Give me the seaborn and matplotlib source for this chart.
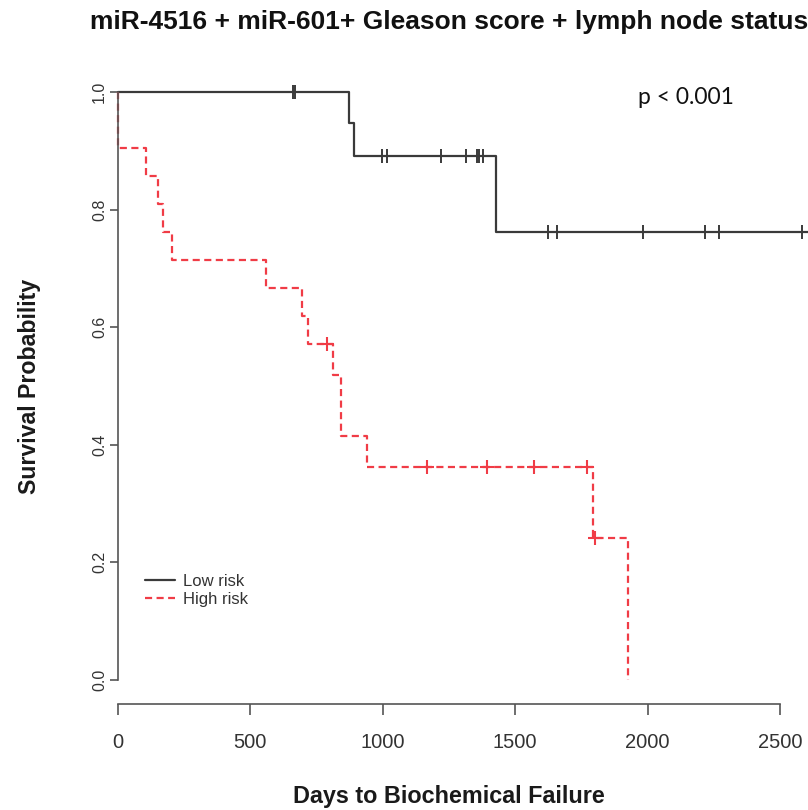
import numpy as np
import pandas as pd
import matplotlib
matplotlib.use("Agg")
import matplotlib.pyplot as plt
import seaborn as sns

# ---- data ----
groups = ["Low risk", "High risk"]

low_days = [0, 872, 891, 1427, 2606]
low_surv = [1.0, 0.947, 0.891, 0.762, 0.762]
low_censor_days = [661, 668, 997, 1016, 1220, 1314, 1356, 1363, 1378,
                   1624, 1658, 1983, 2217, 2270, 2584]

high_days = [0, 1, 105, 151, 170, 204, 559, 695, 718, 812, 842, 940, 1795, 1926]
high_surv = [1.0, 0.905, 0.857, 0.810, 0.762, 0.714, 0.667, 0.619, 0.571,
             0.519, 0.415, 0.363, 0.242, 0.0]
high_censor_days = [789, 1167, 1393, 1571, 1771, 1800]

x_ticks = [0, 500, 1000, 1500, 2000, 2500]
y_ticks = [0.0, 0.2, 0.4, 0.6, 0.8, 1.0]

title = "miR-4516 + miR-601+ Gleason score + lymph node status"
p_text = "p < 0.001"

colors = {"Low risk": "#3a3a3a", "High risk": "#f03c46"}


def step_at(days, surv, t):
    idx = np.searchsorted(days, t, side="right") - 1
    return np.asarray(surv)[idx]


curves = pd.DataFrame({
    "days": low_days + high_days,
    "surv": low_surv + high_surv,
    "group": ["Low risk"] * len(low_days) + ["High risk"] * len(high_days),
})
low_cens = pd.DataFrame({"days": low_censor_days,
                         "surv": step_at(low_days, low_surv, low_censor_days)})
high_cens = pd.DataFrame({"days": high_censor_days,
                          "surv": step_at(high_days, high_surv, high_censor_days)})

sns.set_style("white")
plt.rcParams["font.family"] = ["Liberation Sans", "DejaVu Sans"]

W, H = 808, 810
fig = plt.figure(figsize=(W / 100, H / 100), dpi=100)
ax = fig.add_axes([118 / W, (H - 680) / H, 690 / W, 588 / H])

sns.lineplot(data=curves, x="days", y="surv", hue="group", style="group",
             hue_order=groups, style_order=groups, palette=colors,
             dashes={"Low risk": "", "High risk": (3.2, 2)},
             estimator=None, sort=False, drawstyle="steps-post",
             linewidth=1.6, clip_on=False, ax=ax, legend=True)

sns.scatterplot(data=low_cens, x="days", y="surv", marker="|", s=110,
                color=colors["Low risk"], linewidth=1.4, clip_on=False,
                legend=False, ax=ax, zorder=3)
sns.scatterplot(data=high_cens, x="days", y="surv", marker="+", s=110,
                color=colors["High risk"], linewidth=1.5, clip_on=False,
                legend=False, ax=ax, zorder=3)

ax.set_xlim(0, 2606)
ax.set_ylim(0, 1)
ax.set_xticks(x_ticks)
ax.set_yticks(y_ticks)
ax.set_xticklabels([str(v) for v in x_ticks])
ax.set_yticklabels([f"{v:.1f}" for v in y_ticks])
ax.set_xlabel("")
ax.set_ylabel("")

for s in ["top", "right"]:
    ax.spines[s].set_visible(False)
for s in ["left", "bottom"]:
    ax.spines[s].set_color("#555555")
    ax.spines[s].set_linewidth(1.2)
ax.spines["bottom"].set_position(("outward", 17.3))
ax.spines["bottom"].set_bounds(0, 2500)
ax.spines["left"].set_bounds(0, 1)

ax.tick_params(axis="x", length=7.9, width=1.2, pad=13, labelsize=14.5,
               color="#555555", labelcolor="#333333", bottom=True)
ax.tick_params(axis="y", length=5.8, width=1.2, pad=2, labelsize=11.5,
               color="#555555", labelcolor="#333333", labelrotation=90, left=True)
for lab in ax.get_yticklabels():
    lab.set_va("center")

leg = ax.get_legend()
handles = leg.legend_handles
labels = [t.get_text() for t in leg.get_texts()]
ax.legend(handles, labels, loc="upper left", bbox_to_anchor=(0.039, 0.18),
          frameon=False, fontsize=12, handlelength=1.8, handletextpad=0.5,
          labelspacing=0.15, borderaxespad=0, borderpad=0,
          labelcolor="#333333")

fig.text(449 / W, 1 - 22 / H, title, ha="center", va="center",
         fontsize=19, weight="bold", color="#111111")
fig.text(30 / W, 1 - 386 / H, "Survival Probability", rotation=90,
         ha="center", va="center", fontsize=16.7, weight="bold", color="#1a1a1a")
fig.text(449 / W, 1 - 797 / H, "Days to Biochemical Failure", ha="center",
         va="center", fontsize=16.8, weight="bold", color="#1a1a1a")
fig.text(686 / W, 1 - 97 / H, p_text, ha="center", va="center",
         fontsize=16.5, family=["Lato", "DejaVu Sans"], color="#111111")

fig.savefig("out.png", dpi=100)
